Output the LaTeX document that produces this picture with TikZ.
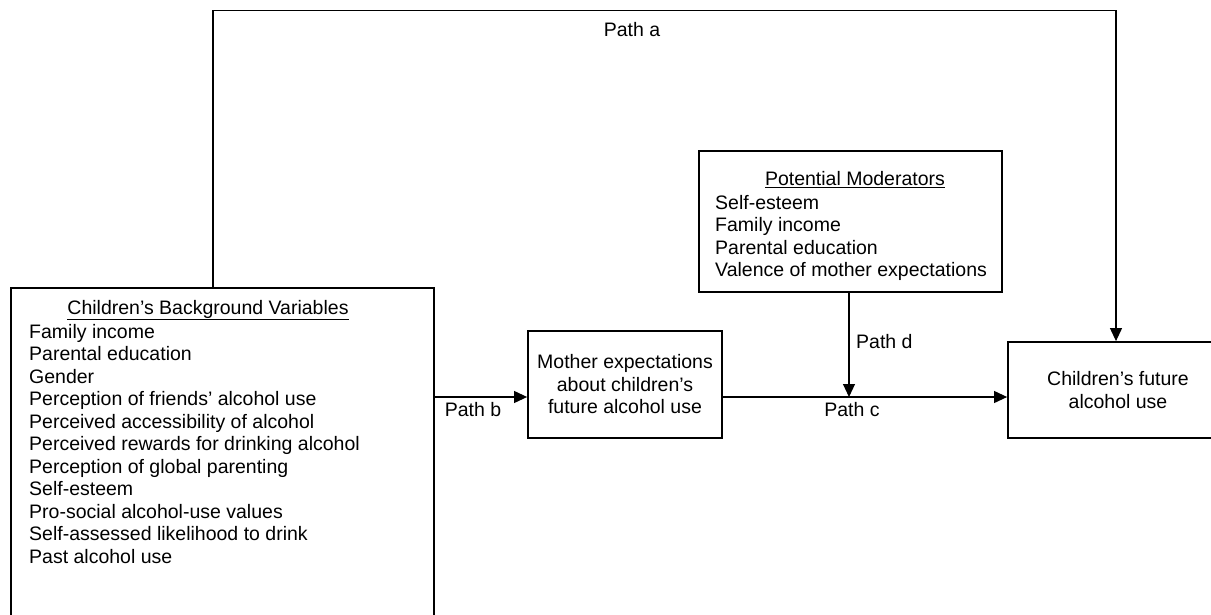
\documentclass[tikz,border=0pt]{standalone}
\usepackage{fontspec}
\setmainfont{Liberation Sans}
\usetikzlibrary{arrows.meta}
\tikzset{
  box/.style={draw, line width=1.8pt, rectangle, inner sep=0pt},
  conn/.style={line width=1.1pt},
  arr/.style={conn, -{Triangle[length=13pt,width=12pt]}},
  lbl/.style={inner sep=0pt, font=\fontsize{19.5}{22.5}\selectfont},
}
\begin{document}
\begin{tikzpicture}[x=1pt,y=-1pt]
\useasboundingbox (0,0) rectangle (1211,615);
% boxes
\node[box, minimum width=423pt, minimum height=332pt] (bg) at (222.5,454) {};
\node[box, minimum width=194pt, minimum height=107pt, align=center, lbl] (me) at (625,384.5)
  {\fontsize{19.5}{23}\selectfont Mother expectations\\about children’s\\future alcohol use};
\node[box, minimum width=303pt, minimum height=141pt] (mod) at (850.5,221.5) {};
\node[box, minimum width=220pt, minimum height=96pt, align=center, lbl] (cf) at (1118,390)
  {\fontsize{19.5}{23}\selectfont Children’s future\\alcohol use};
% texts of left box
\node[lbl] (bgtitle) at (208,310) {\underline{Children’s Background Variables}};
\node[lbl, anchor=north west, align=left] (bglist) at (29,324)
  {Family income\\Parental education\\Gender\\Perception of friends’ alcohol use\\Perceived accessibility of alcohol\\Perceived rewards for drinking alcohol\\Perception of global parenting\\Self-esteem\\Pro-social alcohol-use values\\Self-assessed likelihood to drink\\Past alcohol use};
% texts of moderators box
\node[lbl] (modtitle) at (855,180) {\underline{Potential Moderators}};
\node[lbl, anchor=north west, align=left] (modlist) at (715,195)
  {\fontsize{19.5}{21.7}\selectfont Self-esteem\\Family income\\Parental education\\Valence of mother expectations};
% connector points
\coordinate (a1) at (213,10.5);
\coordinate (a2) at (1116,10.5);
\coordinate (dj) at (849,397);
% connectors
\draw[arr] (bg.north -| a1) -- (a1) -- (a2) -- (a2 |- cf.north);
\draw[arr] (bg.east |- dj) -- (me.west |- dj);
\draw[arr] (me.east |- dj) -- (cf.west |- dj);
\draw[arr] (mod.south -| dj) -- (dj);
% labels
\node[lbl] (pa) at (632,30) {Path a};
\node[lbl] (pb) at (473,410) {Path b};
\node[lbl] (pc) at (852,410) {Path c};
\node[lbl, anchor=west] (pd) at (856,342) {Path d};
\end{tikzpicture}
\end{document}
